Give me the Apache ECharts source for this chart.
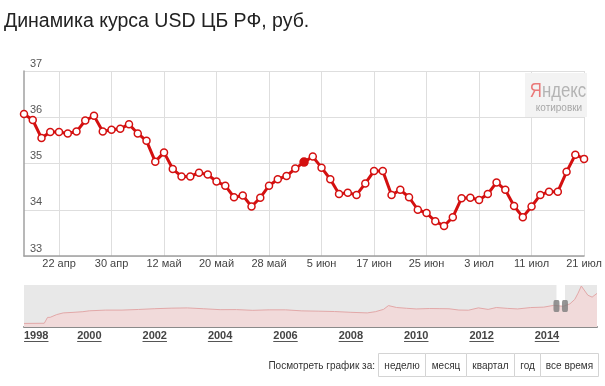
<!DOCTYPE html>
<html><head><meta charset="utf-8">
<script src="https://cdn.jsdelivr.net/npm/echarts@6/dist/echarts.min.js"></script>
<style>html,body{margin:0;padding:0;background:#fff}#c{width:605px;height:386px}</style>
</head><body><div id="c"></div>
<script>
// Main chart: USD/RUB CBR rate, 65 daily points (Apr–Jul 2014)
const usdRub = [36.07,35.94,35.55,35.68,35.68,35.65,35.69,35.93,36.03,35.69,
  35.73,35.75,35.85,35.65,35.49,35.04,35.24,34.88,34.72,34.72,
  34.80,34.76,34.61,34.52,34.27,34.31,34.07,34.26,34.52,34.66,
  34.73,34.89,35.03,35.15,34.91,34.66,34.34,34.37,34.32,34.57,
  34.84,34.84,34.32,34.43,34.27,34.00,33.93,33.75,33.65,33.84,
  34.25,34.26,34.21,34.34,34.59,34.43,34.08,33.84,34.07,34.32,
  34.39,34.39,34.82,35.19,35.10];
const highlightIndex = 32;
const dateTickLabels = ['22 апр','30 апр','12 май','20 май','28 май','5 июн','17 июн','25 июн','3 июл','11 июл','21 июл'];
const firstTick = 4, tickStep = 6;
const yTicks = [33, 34, 35, 36, 37];

// Navigator: full history
const navYears = [1998.0,1998.62,1998.66,1998.72,1998.8,1999.0,1999.2,1999.5,1999.8,2000.0,2000.5,2001.0,2001.5,2002.0,2002.5,2003.0,2003.5,2004.0,2004.5,2005.0,2005.5,2006.0,2006.5,2007.0,2007.5,2008.0,2008.5,2008.75,2009.0,2009.15,2009.4,2009.7,2010.0,2010.4,2010.7,2011.0,2011.3,2011.6,2011.9,2012.2,2012.45,2012.8,2013.1,2013.5,2013.9,2014.2,2014.5,2014.7,2014.85,2014.95,2015.05,2015.25,2015.38,2015.53];
const navRub = [5.96,6.25,7.9,16.0,16.1,20.7,23.5,24.4,25.5,27.0,28.2,28.2,29.2,30.5,31.4,31.8,30.4,28.9,29.0,27.8,28.6,28.6,26.9,26.4,25.8,24.5,23.5,25.5,29.4,35.7,32.5,31.2,30.1,30.8,30.6,30.4,28.3,28.0,31.9,29.3,32.5,31.0,30.1,32.4,33.1,36.0,34.6,38.5,46.0,56.3,68.3,53.0,49.8,56.0];
const yearLabels = ['1998','2000','2002','2004','2006','2008','2010','2012','2014'];
const windowStart = 2014.29, windowEnd = 2014.55;
const navMin = 0, navMax = 70;

const buttonLabels = ['неделю','месяц','квартал','год','все время'];
const FONT = 'Arial, "Liberation Sans", sans-serif';

const chart = echarts.init(document.getElementById('c'), null, {renderer:'canvas'});
const categories = usdRub.map((_, i) => String(i));
const mainData = usdRub.map((v, i) => i === highlightIndex
  ? {value: v, symbolSize: 8, itemStyle: {color: '#d41010', borderColor:'#d41010'}}
  : v);

chart.setOption({
  animation: false,
  title: {text: 'Динамика курса USD ЦБ РФ, руб.', left: 4, top: 12, padding: 0,
    textStyle: {fontFamily: FONT, fontSize: 19.5, fontWeight: 'normal', color: '#222'}},
  grid: [
    {left: 24, top: 71, width: 573, height: 185},
    {left: 24, top: 285, width: 573, height: 42, show: true, backgroundColor: '#e8e8e8', borderWidth: 0}
  ],
  xAxis: [
    {type: 'category', gridIndex: 0, data: categories, boundaryGap: false,
      axisLine: {lineStyle: {color: '#a0a0a0', width: 1.5}},
      axisTick: {show: false},
      axisLabel: {fontFamily: FONT, fontSize: 11, color: '#444', margin: 2,
        alignMaxLabel: 'center', alignMinLabel: 'center',
        interval: i => i % tickStep === firstTick,
        formatter: (v, i) => i % tickStep === firstTick ? dateTickLabels[(i - firstTick) / tickStep] : ''},
      splitLine: {show: true, interval: i => i % tickStep === firstTick, lineStyle: {color: '#dedede'}}},
    {type: 'value', gridIndex: 1, min: 1998, max: 2015.53, interval: 2,
      axisLine: {lineStyle: {color: '#8a8a8a', width: 2}},
      axisTick: {show: false}, splitLine: {show: false},
      axisLabel: {fontFamily: FONT, fontSize: 11, fontWeight: 'bold', color: '#444', margin: 3,
        alignMinLabel: 'left', showMaxLabel: false,
        formatter: v => yearLabels.includes(String(v)) ? String(v) : ''}}
  ],
  yAxis: [
    {type: 'value', gridIndex: 0, min: yTicks[0], max: yTicks[yTicks.length-1], interval: 1,
      axisLine: {show: true, lineStyle: {color: '#a0a0a0', width: 1.5}},
      axisTick: {show: false},
      axisLabel: {inside: true, fontFamily: FONT, fontSize: 11, color: '#555', margin: 6,
        verticalAlign: 'bottom', padding: [0, 0, 2, 0]},
      splitLine: {lineStyle: {color: '#dedede'}}},
    {type: 'value', gridIndex: 1, min: navMin, max: navMax, show: false}
  ],
  series: [
    {type: 'line', xAxisIndex: 0, yAxisIndex: 0, data: mainData, z: 5,
      symbol: 'circle', symbolSize: 7, showAllSymbol: true,
      lineStyle: {color: '#d41010', width: 3},
      itemStyle: {color: '#ffffff', borderColor: '#d41010', borderWidth: 1.5}},
    {type: 'line', xAxisIndex: 1, yAxisIndex: 1, z: 1, symbol: 'none',
      data: [[windowStart, navMin], [windowEnd, navMin]], lineStyle: {opacity: 0},
      markArea: {silent: true, itemStyle: {color: '#ffffff'},
        data: [[{xAxis: windowStart}, {xAxis: windowEnd}]]}},
    {type: 'line', xAxisIndex: 1, yAxisIndex: 1, z: 2, symbol: 'none',
      data: navYears.map((y, i) => [y, navRub[i]]),
      lineStyle: {color: '#e2a8a8', width: 1},
      areaStyle: {color: '#f1dada', opacity: 1}},
    {type: 'scatter', xAxisIndex: 1, yAxisIndex: 1, z: 4, silent: true,
      data: [[windowStart, (navMin + navMax) / 2], [windowEnd, (navMin + navMax) / 2]],
      symbol: 'roundRect', symbolSize: [6, 12], itemStyle: {color: '#7c7c7c'}}
  ]
});

// decorations: underlines under year labels, Yandex badge, period buttons
const cv = document.createElement('canvas').getContext('2d');
cv.font = 'bold 11px Arial, "Liberation Sans", sans-serif';
const graphics = [];
yearLabels.forEach((lab, i) => {
  const yr = Number(lab);
  const x = chart.convertToPixel({xAxisIndex: 1}, yr);
  const w = cv.measureText(lab).width;
  const x0 = i === 0 ? x : x - w / 2;
  graphics.push({type: 'line', silent: true,
    shape: {x1: x0, y1: 341.5, x2: x0 + w, y2: 341.5},
    style: {stroke: '#555', lineWidth: 1}});
});
graphics.push({type: 'rect', shape: {x: 525, y: 73, width: 62, height: 44},
  style: {fill: '#f3f3f3'}});
graphics.push({type: 'text', x: 558, y: 91, scaleX: 0.8,
  style: {text: '{r|Я}{g|ндекс}', align: 'center', verticalAlign: 'middle',
    rich: {r: {fontFamily: FONT, fontSize: 21, fill: '#ea7a7a'},
           g: {fontFamily: FONT, fontSize: 21, fill: '#b4b4b4'}}}});
graphics.push({type: 'text', x: 559, y: 108,
  style: {text: 'котировки', fontFamily: FONT, fontSize: 10, fill: '#a8a8a8', align: 'center', verticalAlign: 'middle'}});
graphics.push({type: 'text', x: 375, y: 366,
  style: {text: 'Посмотреть график за:', fontFamily: FONT, fontSize: 10, fill: '#333', align: 'right', verticalAlign: 'middle'}});
const btnEdges = [378, 425, 466, 514, 540, 598];
buttonLabels.forEach((lab, i) => {
  const x0 = btnEdges[i], x1 = btnEdges[i + 1];
  graphics.push({type: 'rect', shape: {x: x0 + 0.5, y: 353.5, width: x1 - x0, height: 23},
    style: {fill: '#fff', stroke: '#d4d4d4', lineWidth: 1}});
  graphics.push({type: 'text', x: (x0 + x1) / 2 + 0.5, y: 366,
    style: {text: lab, fontFamily: FONT, fontSize: 10, fill: '#333', align: 'center', verticalAlign: 'middle'}});
});
chart.setOption({graphic: graphics});
</script>
</body></html>
